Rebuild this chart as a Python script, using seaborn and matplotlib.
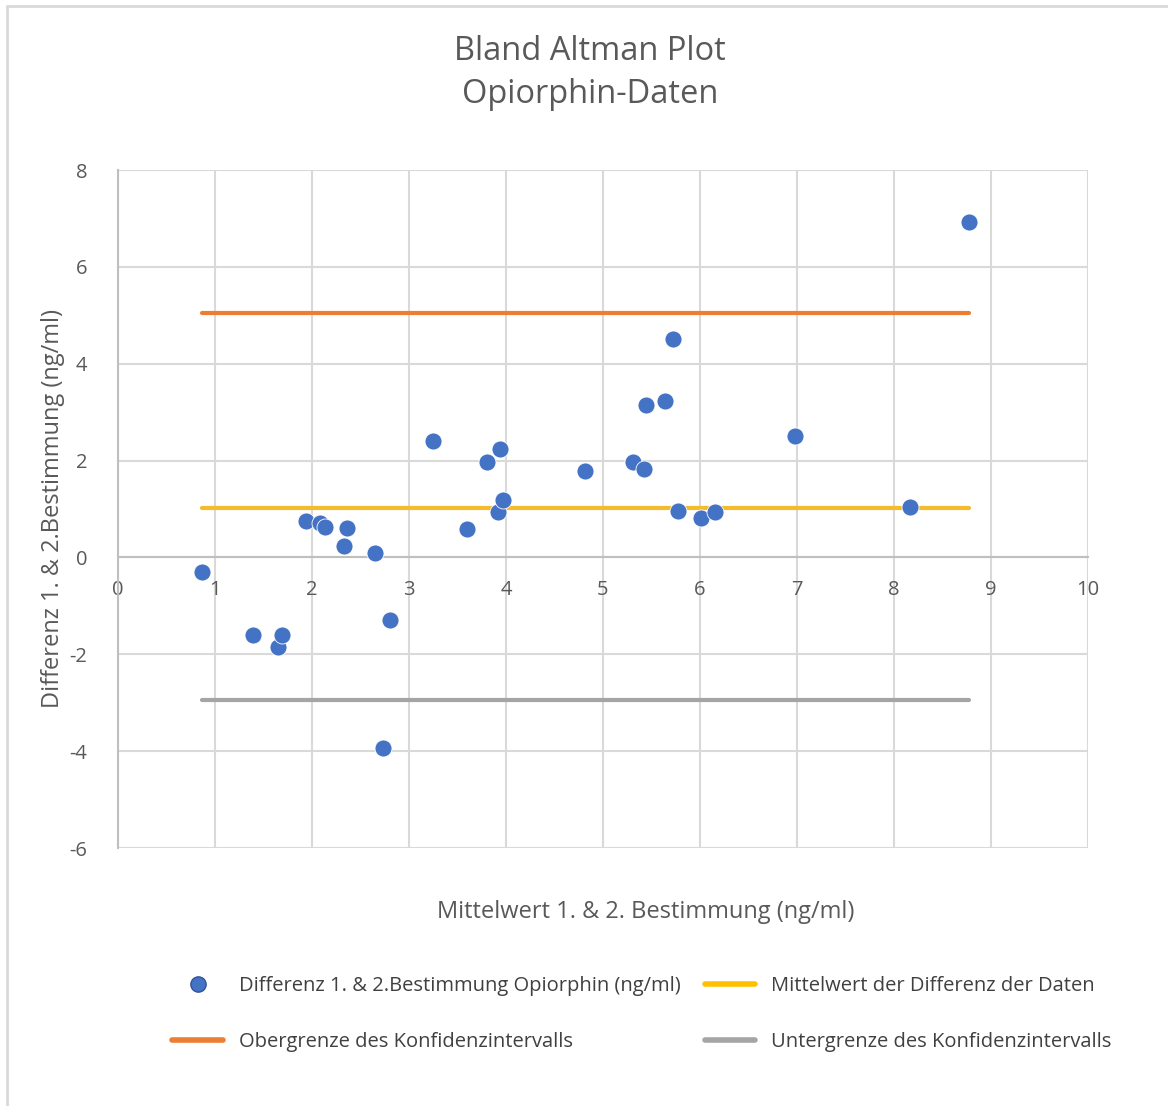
import numpy as np
import pandas as pd
import matplotlib
matplotlib.use('Agg')
import matplotlib.pyplot as plt
import seaborn as sns
from matplotlib.lines import Line2D

# Mittelwert und Differenz der beiden Bestimmungen (ng/ml)
mittelwert = [0.87, 1.39, 1.65, 1.69, 1.94, 2.08, 2.13, 2.36, 2.33, 2.65,
              2.80, 2.73, 3.25, 3.60, 3.80, 3.94, 3.92, 3.97, 4.81, 5.31,
              5.42, 5.44, 5.64, 5.72, 5.77, 6.01, 6.15, 6.98, 8.16, 8.77]
differenz = [-0.31, -1.61, -1.84, -1.61, 0.76, 0.72, 0.62, 0.60, 0.23, 0.10,
             -1.30, -3.94, 2.40, 0.58, 1.98, 2.23, 0.93, 1.18, 1.78, 1.98,
             1.82, 3.14, 3.24, 4.52, 0.95, 0.81, 0.93, 2.50, 1.05, 6.92]

mean_diff = 1.03
upper_limit = 5.04
lower_limit = -2.95

label_pts = 'Differenz 1. & 2.Bestimmung Opiorphin (ng/ml)'
label_mean = 'Mittelwert der Differenz der Daten'
label_upper = 'Obergrenze des Konfidenzintervalls'
label_lower = 'Untergrenze des Konfidenzintervalls'

df = pd.DataFrame({'mittelwert': mittelwert, 'differenz': differenz})
x_start, x_end = min(mittelwert), max(mittelwert)
lines_df = pd.DataFrame({
    'x': [x_start, x_end] * 3,
    'y': [upper_limit] * 2 + [mean_diff] * 2 + [lower_limit] * 2,
    'serie': [label_upper] * 2 + [label_mean] * 2 + [label_lower] * 2,
})

sns.set_style('white')
plt.rcParams['font.family'] = ['Open Sans', 'DejaVu Sans']
plt.rcParams['axes.unicode_minus'] = False

blue = '#4472C4'
orange = '#ED7D31'
yellow = '#FFC000'
yellow_line = '#F4BC2C'
gray = '#A5A5A5'
text_gray = '#595959'
grid_gray = '#D9D9D9'

fig = plt.figure(figsize=(11.68, 11.06), dpi=100)
ax = fig.add_axes([118 / 1168, 1 - 848 / 1106, 970 / 1168, 678 / 1106])

# Grenzlinien und Mittelwert
sns.lineplot(data=lines_df, x='x', y='y', hue='serie',
             palette={label_upper: orange, label_mean: yellow_line, label_lower: gray},
             linewidth=3, legend=False, ax=ax, zorder=3,
             solid_capstyle='round')

sns.scatterplot(data=df, x='mittelwert', y='differenz', color=blue, s=150,
                edgecolor='white', linewidth=0.6, ax=ax, zorder=4, legend=False)

ax.set_xlim(0, 10)
ax.set_ylim(-6, 8)
ax.set_xticks(range(0, 11))
ax.set_yticks(range(-6, 9, 2))
ax.grid(True, color=grid_gray, linewidth=1.5)
ax.set_axisbelow(True)

for side in ['top', 'right']:
    ax.spines[side].set_visible(False)
ax.spines['bottom'].set_position(('data', 0))
ax.spines['bottom'].set_color('#BFBFBF')
ax.spines['bottom'].set_linewidth(1.5)
ax.spines['left'].set_color('#BFBFBF')
ax.spines['left'].set_linewidth(1.5)
ax.tick_params(axis='both', length=0, labelsize=14.5, labelcolor=text_gray)
ax.tick_params(axis='x', pad=16)
ax.tick_params(axis='y', pad=22)
ax.set_xlabel('')
ax.set_ylabel('')

fig.text(646 / 1168, 1 - 912 / 1106, 'Mittelwert 1. & 2. Bestimmung (ng/ml)',
         ha='center', va='center', fontsize=17, color=text_gray)
fig.text(53 / 1168, 1 - 508 / 1106, 'Differenz 1. & 2.Bestimmung (ng/ml)',
         ha='center', va='center', rotation=90, fontsize=17, color=text_gray)
fig.text(590 / 1168, 1 - 73 / 1106, 'Bland Altman Plot\nOpiorphin-Daten',
         ha='center', va='center', fontsize=23.5, color=text_gray, linespacing=1.4)

handles = [
    Line2D([], [], marker='o', linestyle='none', markersize=11,
           markerfacecolor=blue, markeredgecolor='#2F5597'),
    Line2D([], [], color=orange, linewidth=4),
    Line2D([], [], color=yellow, linewidth=4),
    Line2D([], [], color=gray, linewidth=4),
]
labels = [label_pts, label_upper, label_mean, label_lower]
leg = fig.legend(handles, labels, ncol=2, loc='center',
                 bbox_to_anchor=(642 / 1168, 1 - 1014 / 1106),
                 frameon=False, fontsize=14.5, labelspacing=1.8,
                 columnspacing=1.2, handlelength=2.5, handletextpad=0.8)
for t in leg.get_texts():
    t.set_color('#404040')

# Rahmen des Diagrammbereichs (oben und links sichtbar)
fig.add_artist(plt.Line2D([7 / 1168, 7 / 1168], [0, 1 - 6 / 1106],
                          transform=fig.transFigure, color=grid_gray, linewidth=2))
fig.add_artist(plt.Line2D([7 / 1168, 1], [1 - 6 / 1106, 1 - 6 / 1106],
                          transform=fig.transFigure, color=grid_gray, linewidth=2))

fig.savefig('out.png', dpi=100)
